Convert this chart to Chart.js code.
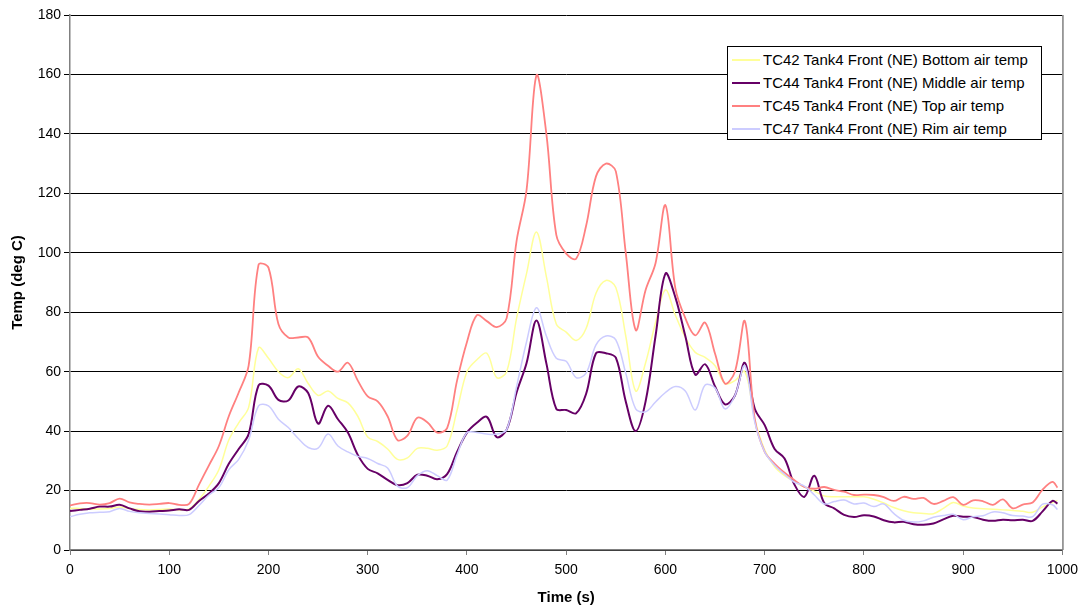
<!DOCTYPE html>
<html>
<head>
<meta charset="utf-8">
<script src="https://cdn.jsdelivr.net/npm/chart.js@4/dist/chart.umd.min.js"></script>
<style>
  body { margin: 0; background: #fff; }
  #wrap { position: relative; width: 1085px; height: 612px; }
  #legend {
    position: absolute; left: 727px; top: 46px; width: 315px; height: 94px;
    border: 1px solid #000; background: #fff;
    font-family: "Liberation Sans", Arial, sans-serif; font-size: 15px; color: #000;
    box-sizing: border-box; padding-top: 2px;
  }
  #legend div { height: 23px; line-height: 22px; white-space: nowrap; }
  #legend span.ln { display: inline-block; width: 28px; height: 2px; vertical-align: middle; margin: 0 3px 2px 4px; }
</style>
</head>
<body>
<div id="wrap">
  <canvas id="tempChart" width="1085" height="612"></canvas>
  <div id="legend"></div>
</div>
<script>
// time (s)
const times = [0,10,20,30,40,50,60,70,80,90,100,110,120,130,140,150,160,170,180,190,200,
  210,220,230,240,250,260,270,280,290,300,310,320,330,340,350,360,370,380,390,400,
  410,420,430,440,450,460,470,480,490,500,510,520,530,540,550,560,570,580,590,600,
  610,620,630,640,650,660,670,680,690,700,710,720,730,740,750,760,770,780,790,800,
  810,820,830,840,850,860,870,880,890,900,910,920,930,940,950,960,970,980,990,995];

// TC42 bottom
const tc42 = [14,14,13.8,13.8,14,14.5,14,13.6,13.5,13.6,13.8,13.5,13.8,17,21.5,27,37,42.8,48,68,64.5,
  60,58,61,56,52,53.5,51,49.5,45,38,36.5,34,30.5,31,34.2,34.2,33.6,35,47,60,
  64,66.2,58,60,78,93,107,92,76,73.3,70.5,74.5,86.4,90.7,88.3,72,53.5,63,76.5,87.5,
  79,71.5,66.5,64.8,62,56,57,60,44,33.6,28,25,23,21.2,19.8,18.2,17.9,17.9,17.9,17.9,
  17.1,15.8,14.3,13.2,12.5,12.3,12.2,14,16,14.8,14.1,13.9,13.7,13.5,13.3,13,12.7,14.5,16,16.7];

// TC44 middle
const tc44 = [13.1,13.5,13.9,14.6,14.6,15.2,14,13,12.9,13.1,13.3,13.7,13.5,16.5,19,22.5,29,34,39,55.4,55.3,
  50.5,50.3,55,52.8,42.5,48.5,44,39.5,32,27.3,25.8,23.6,21.8,22.5,25.3,25,23.8,25.5,33,39.5,
  42.8,44.8,38,40.5,53,62.8,77.2,62.8,47.5,47.1,46,52.5,66.2,66.2,64.7,50,40,50,72,93,
  85,72,59,62.5,55,49,52,63,47.5,42,34,30.8,22,17.9,25,15.8,14,11.8,11.1,11.7,
  11.3,10,9.3,9.5,8.7,8.5,8.9,10.3,11.5,11.2,11.1,10.2,9.8,10.2,10,10.2,9.8,13,16.5,15.6];

// TC45 top
const tc45 = [15,15.7,15.8,15.3,15.8,17.3,16,15.5,15.3,15.5,15.8,15.2,15.5,22,28.5,35,45,53,62,96,95,
  76,71.5,71.5,71.5,65,62,60,63,57,51.7,50,45,37,38.5,44.5,43,39.5,41,57,70,
  79,77,75,78,104,121,159.7,140,106,99.7,98,109,125.7,130,127.4,100,74,87.5,96.5,116,
  88,78,72.2,76.5,66,56,60,77,44,33,29,26,23.5,21.2,20.6,21.2,20.2,19.6,18.5,18.6,
  18.5,17.8,16.5,17.9,17.2,17.5,15.5,16.5,17.8,15.2,16.7,16.4,15.2,17,14,15.3,16,20.3,22.9,21];

// TC47 rim
const tc47 = [11.2,12,12.5,12.7,12.9,14,13,12.5,12.3,12.1,11.9,11.6,11.9,15,18.5,21,27,30.5,37,48.5,48.5,
  44,41.2,37.5,34.5,34.3,39,35,33,31.5,30.8,29.1,27.6,21.5,21,25,26.7,25,23.5,32,39.5,
  39.5,39,39,40.5,55,70,81.5,72,64.5,63.5,58,59.5,69,72,70.7,59.5,47.5,46.5,49.8,53,
  55,53.5,47.1,55.5,54.5,47.5,52,62,43,33,28.5,25.5,22.8,21.5,18.5,15.5,16.3,16.8,15.5,15.8,
  14.6,15.5,12.3,10,9.4,9.8,11,11.6,12,10.2,11.2,11.5,12.8,12.5,11.6,11.4,11.2,15.4,15.2,13.6];

const seriesNames = [
  'TC42 Tank4 Front (NE) Bottom air temp',
  'TC44 Tank4 Front (NE) Middle air temp',
  'TC45 Tank4 Front (NE) Top air temp',
  'TC47 Tank4 Front (NE) Rim air temp'
];
const seriesColors = ['#ffff99', '#660066', '#ff8080', '#ccccff'];
const seriesValues = [tc42, tc44, tc45, tc47];
const seriesWidths = [1.5, 2, 1.8, 1.5];

const xTicks = [0,100,200,300,400,500,600,700,800,900,1000];
const yTicks = [0,20,40,60,80,100,120,140,160,180];

const FONT = '"Liberation Sans", Arial, sans-serif';

// right border of the plot area
const rightBorder = {
  id: 'rightBorder',
  afterDraw(chart) {
    const a = chart.chartArea, c = chart.ctx;
    c.save();
    c.strokeStyle = '#808080';
    c.lineWidth = 1.5;
    c.beginPath();
    c.moveTo(a.right + 0.5, a.top);
    c.lineTo(a.right + 0.5, a.bottom);
    c.stroke();
    c.restore();
  }
};

document.addEventListener('DOMContentLoaded', function() {
  const datasets = seriesValues.map((vals, i) => ({
    label: seriesNames[i],
    data: times.map((t, k) => ({ x: t, y: vals[k] })),
    borderColor: seriesColors[i],
    borderWidth: seriesWidths[i],
    pointRadius: 0,
    tension: 0.35,
    fill: false,
    order: 3 - i
  }));

  new Chart(document.getElementById('tempChart'), {
    type: 'line',
    data: { datasets: datasets },
    options: {
      responsive: false,
      animation: false,
      layout: { padding: { left: 0, right: 22, top: 15, bottom: 0 } },
      plugins: { legend: { display: false }, tooltip: { enabled: false } },
      scales: {
        x: {
          type: 'linear', min: 0, max: 1000,
          afterBuildTicks: s => { s.ticks = xTicks.map(v => ({ value: v })); },
          afterFit: s => { s.height = 62; },
          ticks: { color: '#000', font: { family: FONT, size: 14 }, padding: 7, maxRotation: 0,
                   callback: v => String(v) },
          grid: { drawOnChartArea: false, drawTicks: true, tickLength: 5, color: '#808080' },
          border: { color: '#808080', width: 1.5 },
          title: { display: true, text: 'Time (s)', color: '#000', font: { family: FONT, size: 15, weight: 'bold' }, padding: { top: 0, bottom: 5 } }
        },
        y: {
          min: 0, max: 180,
          afterBuildTicks: s => { s.ticks = yTicks.map(v => ({ value: v })); },
          afterFit: s => { s.width = 70; },
          ticks: { color: '#000', font: { family: FONT, size: 14 }, padding: 3 },
          grid: { color: '#000', lineWidth: 1, drawTicks: true, tickLength: 6 },
          border: { color: '#808080', width: 1.5 },
          title: { display: true, text: 'Temp (deg C)', color: '#000', font: { family: FONT, size: 15, weight: 'bold' }, padding: { top: 9, bottom: 0 } }
        }
      }
    },
    plugins: [rightBorder]
  });

  // legend box
  const lg = document.getElementById('legend');
  seriesNames.forEach((name, i) => {
    const row = document.createElement('div');
    const ln = document.createElement('span');
    ln.className = 'ln';
    ln.style.backgroundColor = seriesColors[i];
    row.appendChild(ln);
    row.appendChild(document.createTextNode(name));
    lg.appendChild(row);
  });
});
</script>
</body>
</html>
